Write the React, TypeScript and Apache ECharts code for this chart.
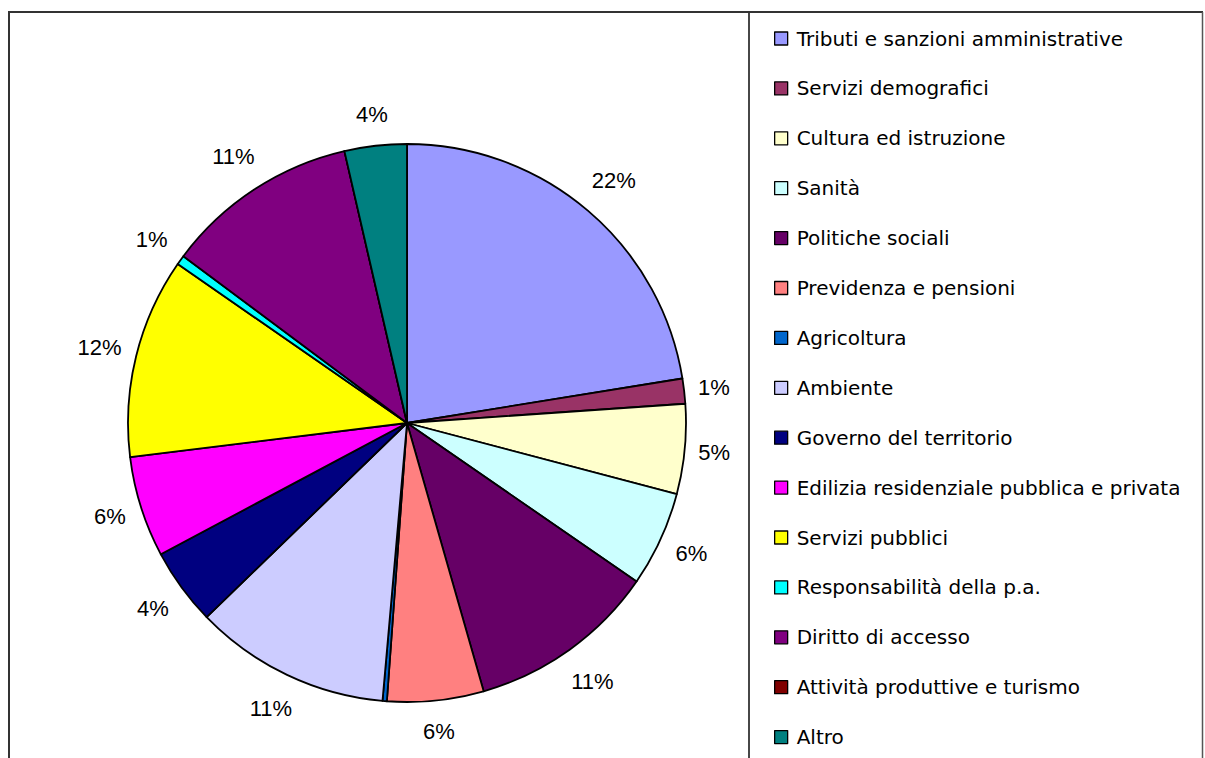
import React, { useEffect, useRef } from 'react';
import * as echarts from 'echarts';

const categories: string[] = [
  'Tributi e sanzioni amministrative',
  'Servizi demografici',
  'Cultura ed istruzione',
  'Sanità',
  'Politiche sociali',
  'Previdenza e pensioni',
  'Agricoltura',
  'Ambiente',
  'Governo del territorio',
  'Edilizia residenziale pubblica e privata',
  'Servizi pubblici',
  'Responsabilità della p.a.',
  'Diritto di accesso',
  'Attività produttive e turismo',
  'Altro',
];

// shares in percent
const values: number[] = [22.45, 1.45, 5.2, 5.52, 10.95, 5.58, 0.25, 11.35, 4.45, 5.85, 11.6, 0.55, 11.2, 0, 3.6];

const colors: string[] = [
  '#9999FF', '#993366', '#FFFFCC', '#CCFFFF', '#660066', '#FF8080', '#0066CC', '#CCCCFF',
  '#000080', '#FF00FF', '#FFFF00', '#00FFFF', '#800080', '#800000', '#008080',
];

const CX = 407;
const CY = 423;
const R = 279;

export default function App() {
  const ref = useRef<HTMLDivElement>(null);

  useEffect(() => {
    if (!ref.current) return;
    const chart = echarts.init(ref.current, null, { renderer: 'svg' });
    const total = values.reduce((a, b) => a + b, 0);
    const cum: number[] = [];
    let acc = 0;
    values.forEach((v) => {
      cum.push(acc);
      acc += v;
    });

    const data = categories.map((name, i) => ({
      name,
      value: values[i],
      itemStyle: { color: colors[i] },
      label: { show: Math.round((values[i] / total) * 100) >= 1 },
    }));

    chart.setOption({
      animation: false,
      backgroundColor: '#ffffff',
      legend: {
        orient: 'vertical',
        left: 774,
        top: 28.5,
        padding: 0,
        itemWidth: 13,
        itemHeight: 13,
        itemGap: 29.9,
        icon: 'rect',
        selectedMode: false,
        data: categories,
        itemStyle: { borderColor: '#000', borderWidth: 1.3 },
        textStyle: {
          fontFamily: 'DejaVu Sans',
          fontSize: 20,
          color: '#000',
          lineHeight: 20,
          padding: [0, 0, 0, 4],
        },
      },
      graphic: [
        { type: 'line', shape: { x1: 9, y1: 11, x2: 9, y2: 760 }, style: { stroke: '#333', lineWidth: 2 } },
        { type: 'line', shape: { x1: 8, y1: 12, x2: 1203, y2: 12 }, style: { stroke: '#333', lineWidth: 2 } },
        { type: 'line', shape: { x1: 1202.5, y1: 12, x2: 1202.5, y2: 760 }, style: { stroke: '#555', lineWidth: 1.5 } },
        { type: 'line', shape: { x1: 749, y1: 12, x2: 749, y2: 760 }, style: { stroke: '#333', lineWidth: 1.8 } },
      ],
      series: [
        {
          type: 'pie',
          center: [CX, CY],
          radius: R,
          startAngle: 90,
          clockwise: true,
          avoidLabelOverlap: false,
          emphasis: { disabled: true },
          itemStyle: { borderColor: '#000', borderWidth: 1.8 },
          label: {
            position: 'outside',
            fontFamily: 'Liberation Sans',
            fontSize: 22,
            color: '#000',
            formatter: (p: any) => Math.round((p.value / total) * 100) + '%',
          },
          labelLine: { show: false },
          labelLayout: (p: any) => {
            const i = p.dataIndex;
            const mid = ((cum[i] + values[i] / 2) / total) * Math.PI * 2;
            const dx = Math.sin(mid);
            const dy = -Math.cos(mid);
            const w = p.labelRect ? p.labelRect.width : 40;
            const h = 16;
            const ext = (Math.abs(dx) * w) / 2 + (Math.abs(dy) * h) / 2;
            const gap = 12 + 10 * Math.abs(dy);
            const d = R + gap + ext;
            return { x: CX + d * dx, y: CY + d * dy, align: 'center', verticalAlign: 'middle' };
          },
          data,
        },
      ],
    });

    return () => chart.dispose();
  }, []);

  return <div ref={ref} style={{ position: 'absolute', left: 0, top: 0, width: 1205, height: 758 }} />;
}
